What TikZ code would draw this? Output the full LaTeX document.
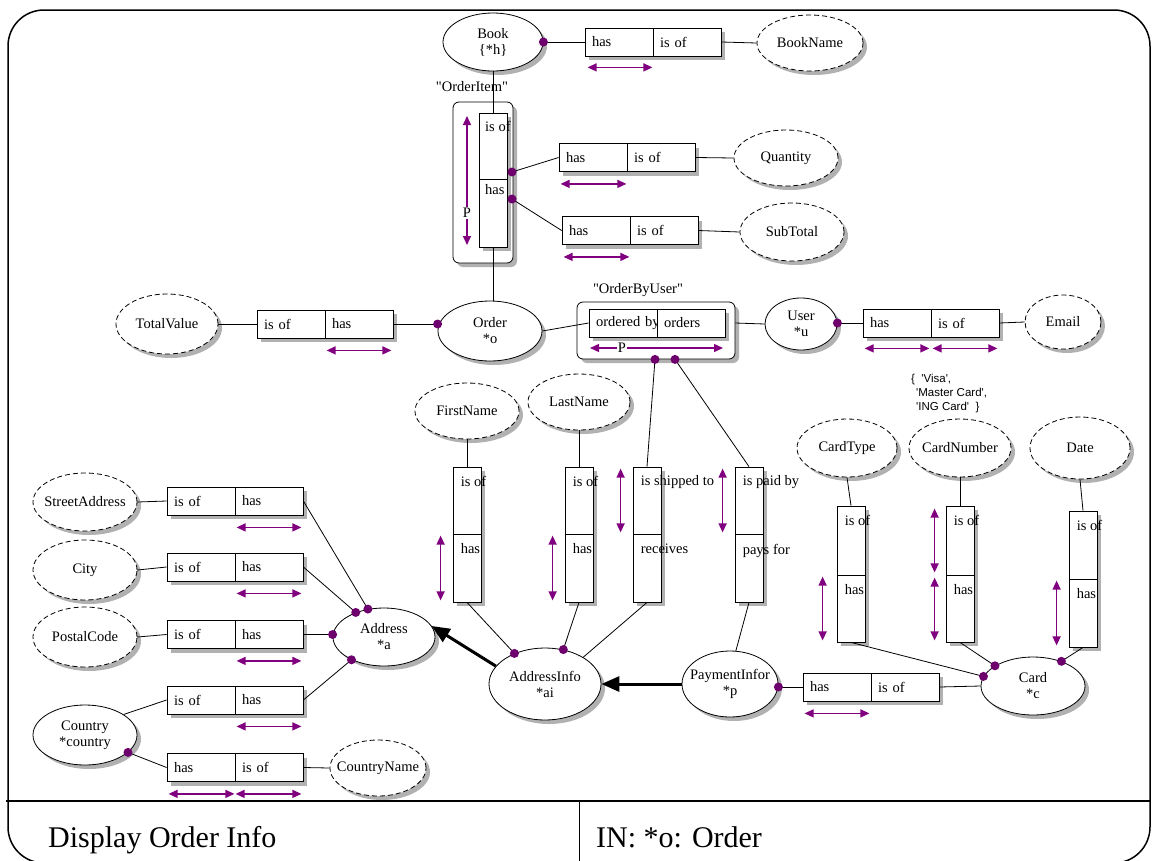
\documentclass[tikz,border=0pt]{standalone}
\usepackage{fontspec}
\setmainfont{Liberation Serif}
\newfontfamily\vcfont{Liberation Sans}
\usetikzlibrary{shapes.geometric,arrows.meta,shadows,calc}
\definecolor{ormpurple}{RGB}{128,0,128}
\definecolor{ormdotc}{RGB}{110,0,110}
\newcommand{\ctxt}[1]{\makebox[0pt]{#1}}

\begin{document}
\begin{tikzpicture}[x=1pt,y=-1pt,
  font=\fontsize{14.5}{16}\selectfont,
  dshadow/.style={drop shadow={shadow xshift=4pt,shadow yshift=-4pt,fill=black!38,opacity=0.8}},
  ent/.style={ellipse,draw,fill=white,inner sep=0pt,align=center,dshadow,line width=0.8pt},
  val/.style={ent,dash pattern=on 5pt off 3pt},
  cell/.style={rectangle,draw,fill=white,inner sep=0pt,minimum width=68pt,minimum height=28pt,
               text width=54pt,align=left,dshadow,line width=0.8pt},
  vcell/.style={rectangle,draw,fill=white,inner sep=0pt,minimum width=28pt,dshadow,line width=0.8pt},
  rolegroup/.style={rectangle,draw,fill=white,rounded corners=6pt,inner sep=0pt,dshadow,line width=0.8pt},
  vtxt/.style={anchor=north west,inner sep=0pt},
  uc/.style={draw=ormpurple,line width=1.4pt,{Triangle[length=9pt,width=8pt]}-{Triangle[length=9pt,width=8pt]}},
  link/.style={draw,line width=0.8pt},
  subt/.style={draw,line width=3pt,-{Triangle[length=18pt,width=15pt]}},
  pdot/.style={fill=ormdotc},
]
\useasboundingbox (0,0) rectangle (1152,860);

% outer frame and title bar
\draw[line width=1.5pt,rounded corners=36pt] (8,10) rectangle (1150,863);
\draw[line width=1.5pt] (6,801) -- (1150,801);
\draw[line width=1pt] (579,801) -- (579,870);
\node[anchor=base west,inner sep=0pt,font=\fontsize{30}{34}\selectfont] (title) at (48,847)
  {Display Order Info};
\node[anchor=base west,inner sep=0pt,font=\fontsize{30}{34}\selectfont] (input) at (596,847)
  {IN: *o: Order};

% ---------- Book ----------
\node[ent,minimum width=100pt,minimum height=58pt] (book) at (493,42) {Book\\\{*h\}};
\node[cell] (bk1) at (619,42) {has};
\node[cell] (bk2) at (687,42) {is of};
\node[val,minimum width=106pt,minimum height=56pt] (bookname) at (810,43) {\ctxt{BookName}};

% ---------- OrderItem ----------
\node (oilbl) at (472,87) {\textquotedbl OrderItem\textquotedbl};
\node[rolegroup,minimum width=60pt,minimum height=161pt] (oig) at (483,182.5) {};
\node[vcell,minimum height=66pt] (oi1) at (493,146) {};
\node[vcell,minimum height=68pt] (oi2) at (493,213) {};
\node[vtxt] (oit1) at (485,121) {is of};
\node[vtxt] (oit2) at (485,184) {has};
\coordinate (oiq) at (512,172);
\coordinate (oih) at (512,199);

\node[cell] (qt1) at (593,157.5) {has};
\node[cell] (qt2) at (661,157.5) {is of};
\node[val,minimum width=104pt,minimum height=56pt] (qty) at (786,158) {Quantity};
\node[cell] (sb1) at (596,230.5) {has};
\node[cell] (sb2) at (664,230.5) {is of};
\node[val,minimum width=104pt,minimum height=58pt] (subtot) at (792,232) {SubTotal};

% ---------- Order ----------
\node[ent,minimum width=104pt,minimum height=60pt] (order) at (490,331) {Order\\*o};
\node[cell] (tv1) at (291,324) {is of};
\node[cell] (tv2) at (359,324) {has};
\node[val,minimum width=102pt,minimum height=60pt] (totv) at (167,324) {\ctxt{TotalValue}};
\coordinate (ordot) at (order.west |- tv2.east);

% ---------- OrderByUser ----------
\node (oblbl) at (638,290) {\textquotedbl OrderByUser\textquotedbl};
\node[rolegroup,minimum width=158pt,minimum height=57pt] (obg) at (656,330.5) {};
\node[cell,minimum height=28pt] (ob1) at (623,323) {\mbox{ordered by}};
\node[cell,minimum height=28pt] (ob2) at (691,323) {orders};
\coordinate (obd1) at ($(obg.south)+(-1,0)$);
\coordinate (obd2) at ($(obg.south)+(19,0)$);

% ---------- User ----------
\node[ent,minimum width=72pt,minimum height=52pt] (user) at (801,324) {User\\*u};
\node[cell] (em1) at (897,323) {has};
\node[cell] (em2) at (965,323) {is of};
\node[val,minimum width=76pt,minimum height=54pt] (email) at (1063,322) {Email};
\coordinate (udot) at (user.east |- em1.west);

% value constraint on CardType
\node[anchor=north west,inner sep=0pt,align=left,font=\vcfont\fontsize{11.5}{14}\selectfont] (vcons) at (911,374)
  {\{\ \ \textquotesingle Visa\textquotesingle,\\
   \hspace{5pt}\textquotesingle Master Card\textquotesingle,\\
   \hspace{5pt}\textquotesingle ING Card\textquotesingle\ \ \}};

% ---------- AddressInfo roles ----------
\node[val,minimum width=104pt,minimum height=56pt] (fname) at (467,411) {\ctxt{FirstName}};
\node[val,minimum width=102pt,minimum height=56pt] (lname) at (579,402) {\ctxt{LastName}};
\node[vcell,minimum height=67pt] (fn1) at (467,500.5) {};
\node[vcell,minimum height=68pt] (fn2) at (467,568) {};
\node[vcell,minimum height=67pt] (ln1) at (579,500.5) {};
\node[vcell,minimum height=68pt] (ln2) at (579,568) {};
\node[vcell,minimum height=67pt] (sh1) at (647,500.5) {};
\node[vcell,minimum height=68pt] (sh2) at (647,568) {};
\node[vcell,minimum height=67pt] (pd1) at (749,500.5) {};
\node[vcell,minimum height=68pt] (pd2) at (749,568) {};
\node[vtxt] (fnt1) at ($(fn1.north west)+(8,9)$) {is of};
\node[vtxt] (fnt2) at ($(fn2.north west)+(8,10)$) {has};
\node[vtxt] (lnt1) at ($(ln1.north west)+(8,9)$) {is of};
\node[vtxt] (lnt2) at ($(ln2.north west)+(8,10)$) {has};
\node[vtxt] (sht1) at ($(sh1.north west)+(8,9)$) {is shipped to};
\node[vtxt] (sht2) at ($(sh2.north west)+(8,10)$) {receives};
\node[vtxt] (pdt1) at ($(pd1.north west)+(8,9)$) {is paid by};
\node[vtxt] (pdt2) at ($(pd2.north west)+(8,10)$) {pays for};

\node[ent,minimum width=112pt,minimum height=72pt] (ainfo) at (545,684) {AddressInfo\\*ai};
\node[ent,minimum width=96pt,minimum height=66pt] (pinfo) at (730,684) {\ctxt{PaymentInfor}\\*p};
\node[cell] (pm1) at (837,687) {has};
\node[cell] (pm2) at (905,687) {is of};
\coordinate (pdotp) at (pinfo.east |- pm1.west);

% ---------- Card ----------
\node[ent,minimum width=104pt,minimum height=58pt] (card) at (1033,686) {Card\\*c};
\node[val,minimum width=100pt,minimum height=58pt] (ctype) at (847,448) {\ctxt{CardType}};
\node[val,minimum width=102pt,minimum height=58pt] (cnum) at (960,448) {\ctxt{CardNumber}};
\node[val,minimum width=100pt,minimum height=62pt] (cdate) at (1080,448) {Date};
\node[vcell,minimum height=69pt] (ct1) at (851,540.5) {};
\node[vcell,minimum height=67pt] (ct2) at (851,608.5) {};
\node[vcell,minimum height=69pt] (cnb1) at (960,540.5) {};
\node[vcell,minimum height=67pt] (cnb2) at (960,608.5) {};
\node[vcell,minimum height=68pt] (dt1) at (1083,545) {};
\node[vcell,minimum height=68pt] (dt2) at (1083,613) {};
\node[vtxt] (ctt1) at ($(ct1.north west)+(8,9)$) {is of};
\node[vtxt] (ctt2) at ($(ct2.north west)+(8,10)$) {has};
\node[vtxt] (cnt1) at ($(cnb1.north west)+(8,9)$) {is of};
\node[vtxt] (cnt2) at ($(cnb2.north west)+(8,10)$) {has};
\node[vtxt] (dtt1) at ($(dt1.north west)+(8,9)$) {is of};
\node[vtxt] (dtt2) at ($(dt2.north west)+(8,10)$) {has};

% ---------- Address ----------
\node[ent,minimum width=102pt,minimum height=58pt] (addr) at (384,637) {Address\\*a};
\node[val,minimum width=104pt,minimum height=58pt] (street) at (85,502) {\ctxt{StreetAddress}};
\node[val,minimum width=104pt,minimum height=60pt] (city) at (85,570) {City};
\node[val,minimum width=104pt,minimum height=60pt] (postal) at (85,637) {\ctxt{PostalCode}};
\node[ent,minimum width=104pt,minimum height=60pt] (country) at (85,735) {Country\\*country};
\node[val,minimum width=96pt,minimum height=56pt] (ctryname) at (378,768) {\ctxt{CountryName}};
\node[cell] (st1) at (201,501) {is of};
\node[cell] (st2) at (269,501) {has};
\node[cell] (ci1) at (201,567) {is of};
\node[cell] (ci2) at (269,567) {has};
\node[cell] (pc1) at (201,634.5) {is of};
\node[cell] (pc2) at (269,634.5) {has};
\node[cell] (ca1) at (201,700) {is of};
\node[cell] (ca2) at (269,700) {has};
\node[cell] (cy1) at (201,767.5) {has};
\node[cell] (cy2) at (269,767.5) {is of};
\coordinate (apdot) at (addr.west |- pc2.east);

% ---------- connectors ----------
\draw[link] (book.east) -- (bk1.west);
\draw[link] (bk2.east) -- (bookname.west);
\draw[link] (book.south) -- (oi1.north);
\draw[link] (oi2.south) -- (order.north -| oi2.south);
\draw[link] (oiq) -- (qt1.west);
\draw[link] (qt2.east) -- (qty.west);
\draw[link] (oih) -- (sb1.west);
\draw[link] (sb2.east) -- (subtot.west);
\draw[link] (totv.east) -- (tv1.west);
\draw[link] (tv2.east) -- (ordot);
\draw[link] (order.east) -- (ob1.west);
\draw[link] (obg.east |- ob2.east) -- (user.west);
\draw[link] (udot) -- (em1.west);
\draw[link] (em2.east) -- (email.west);
\draw[link] (obd1) -- (sh1.north);
\draw[link] (obd2) -- (pd1.north);
\draw[link] (fname.south) -- (fn1.north);
\draw[link] (lname.south) -- (ln1.north);
\draw[link] (fn2.south) -- (ainfo.135);
\draw[link] (ln2.south) -- (ainfo.62);
\draw[link] (sh2.south) -- (ainfo.35);
\draw[link] (pd2.south) -- (pinfo.80);
\draw[link] (pdotp) -- (pm1.west);
\draw[link] (pm2.east) -- (card.west);
\draw[link] (ctype.south) -- (ct1.north);
\draw[link] (cnum.south) -- (cnb1.north);
\draw[link] (cdate.south) -- (dt1.north);
\draw[link] (ct2.south) -- (card.169);
\draw[link] (cnb2.south) -- (card.152);
\draw[link] (dt2.south) -- (card.41);
\draw[link] (street.east) -- (st1.west);
\draw[link] (st2.east) -- (addr.120);
\draw[link] (city.east) -- (ci1.west);
\draw[link] (ci2.east) -- (addr.139);
\draw[link] (postal.east) -- (pc1.west);
\draw[link] (pc2.east) -- (apdot);
\draw[link] (country.28) -- (ca1.west);
\draw[link] (ca2.east) -- (addr.215);
\draw[link] (country.-22) -- (cy1.west);
\draw[link] (cy2.east) -- (ctryname.west);

% subtype arrows
\draw[subt] (pinfo.west) -- (ainfo.east);
\draw[subt] (ainfo.160) -- (addr.13);

% uniqueness constraints
\draw[uc] ($(bk1.south west)+(3,11)$) -- ($(bk1.south east)+(-1,11)$);
\draw[uc] (467,116) -- (467,245);
\node[fill=white,inner sep=1pt] (oip) at (467,213) {P};
\draw[uc] ($(qt1.south west)+(2,12)$) -- ($(qt1.south east)+(-1,12)$);
\draw[uc] ($(sb1.south west)+(2,12)$) -- ($(sb1.south east)+(-1,12)$);
\draw[uc] ($(tv2.south west)+(2,12)$) -- ($(tv2.south east)+(-2,12)$);
\draw[uc] (590,348) -- (723,348);
\node[fill=white,inner sep=1pt] (obp) at (622,348) {P};
\draw[uc] ($(em1.south west)+(2,11)$) -- ($(em1.south east)+(-2,11)$);
\draw[uc] ($(em2.south west)+(2,11)$) -- ($(em2.south east)+(-2,11)$);
\draw[uc] ($(fn2.north west)+(-12,2)$) -- ($(fn2.south west)+(-12,-2)$);
\draw[uc] ($(ln2.north west)+(-12,2)$) -- ($(ln2.south west)+(-12,-2)$);
\draw[uc] ($(sh1.north west)+(-12,2)$) -- ($(sh1.south west)+(-12,-2)$);
\draw[uc] ($(pd1.north west)+(-12,2)$) -- ($(pd1.south west)+(-12,-2)$);
\draw[uc] ($(pm1.south west)+(2,12)$) -- ($(pm1.south east)+(-2,12)$);
\draw[uc] ($(ct2.north west)+(-14,2)$) -- ($(ct2.south west)+(-14,-2)$);
\draw[uc] ($(cnb1.north west)+(-11,3)$) -- ($(cnb1.south west)+(-11,-3)$);
\draw[uc] ($(cnb2.north west)+(-11,3)$) -- ($(cnb2.south west)+(-11,-2)$);
\draw[uc] ($(dt2.north west)+(-12,2)$) -- ($(dt2.south west)+(-12,-2)$);
\draw[uc] ($(st2.south west)+(2,12)$) -- ($(st2.south east)+(-2,12)$);
\draw[uc] ($(ci2.south west)+(2,12)$) -- ($(ci2.south east)+(-2,12)$);
\draw[uc] ($(pc2.south west)+(2,12)$) -- ($(pc2.south east)+(-2,12)$);
\draw[uc] ($(ca2.south west)+(2,12)$) -- ($(ca2.south east)+(-2,12)$);
\draw[uc] ($(cy1.south west)+(2,12)$) -- ($(cy1.south east)+(-1,12)$);
\draw[uc] ($(cy2.south west)+(1,12)$) -- ($(cy2.south east)+(-2,12)$);

% mandatory role dots
\foreach \p in {book.east,oiq,oih,ordot,obd1,obd2,udot,ainfo.135,ainfo.62,pdotp,
                card.169,card.152,card.41,addr.120,addr.139,apdot,addr.215,country.-22}
  \fill[pdot] (\p) circle (4.5pt);
\end{tikzpicture}
\end{document}
